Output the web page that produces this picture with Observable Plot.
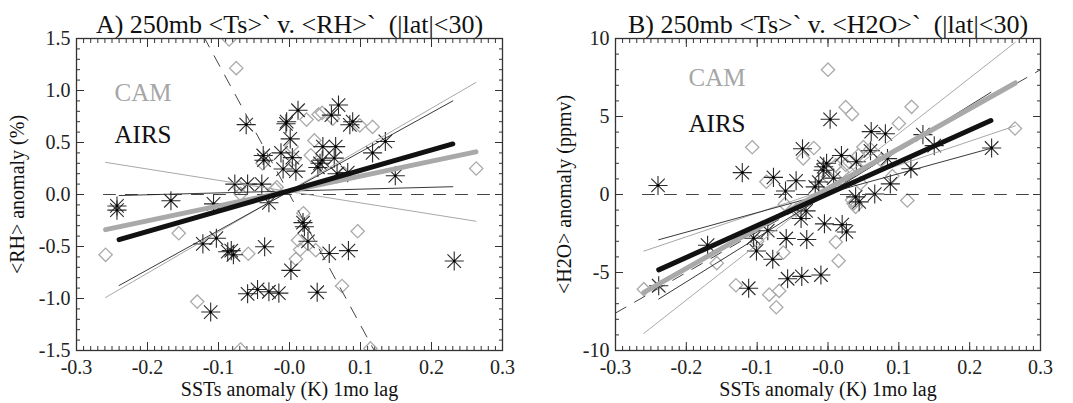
<!DOCTYPE html>
<html><head><meta charset="utf-8">
<script src="https://cdn.jsdelivr.net/npm/d3@7"></script>
<script src="https://cdn.jsdelivr.net/npm/@observablehq/plot@0.6"></script>
<style>
body{margin:0;background:#fff;}
#wrap{position:relative;width:1073px;height:403px;overflow:hidden;background:#fff;}
#a,#b{position:absolute;top:0;}
#a{left:0}#b{left:537px}
#wrap svg, #wrap svg text{font-family:"Liberation Serif","Times New Roman",serif !important;}
</style></head><body><div id="wrap"><div id="a"></div><div id="b"></div></div>
<script>
// ---------- tick labels ----------
const xTicksMajor = [-0.3,-0.2,-0.1,0,0.1,0.2,0.3];
const xTickLabels = ["-0.3","-0.2","-0.1","-0.0","0.1","0.2","0.3"];
const yTicksA = [-1.5,-1,-0.5,0,0.5,1,1.5];
const yTickLabelsA = ["-1.5","-1.0","-0.5","0.0","0.5","1.0","1.5"];
const yTicksB = [-10,-5,0,5,10];
const yTickLabelsB = ["-10","-5","0","5","10"];

// ---------- Panel A: AIRS (asterisks) ----------
const airsA_x = [-0.243,-0.243,-0.167,-0.107,-0.122,-0.103,-0.087,-0.079,-0.082,-0.111,-0.059,-0.045,-0.029,-0.015,-0.035,-0.029,-0.061,-0.077,-0.059,-0.039,-0.037,-0.036,-0.012,-0.009,-0.004,-0.005,0.001,0.004,0.012,0.009,0.002,0.019,0.021,0.026,0.040,0.043,0.047,0.046,0.039,0.056,0.059,0.065,0.063,0.069,0.067,0.085,0.089,0.083,0.082,0.117,0.135,0.149,0.232];
const airsA_y = [-0.11,-0.15,-0.06,-0.09,-0.475,-0.42,-0.55,-0.58,-0.54,-1.13,-0.955,-0.913,-0.935,-0.948,-0.503,-0.08,0.672,0.10,0.10,0.10,0.375,0.33,0.40,0.245,0.70,0.68,0.535,0.355,0.81,0.225,-0.73,-0.27,-0.31,-0.45,0.26,0.30,0.46,0.33,-0.94,-0.567,0.763,0.46,0.35,0.86,0.20,0.67,0.70,-0.54,0.21,0.40,0.51,0.18,-0.64];
// ---------- Panel A: CAM (diamonds) ----------
const camA_x = [-0.259,-0.156,-0.130,-0.069,-0.058,-0.085,-0.075,-0.071,-0.069,-0.020,-0.038,0.003,0.007,0.024,0.041,0.046,0.061,0.099,0.117,0.035,0.030,0.0195,0.012,0.015,0.009,0.037,0.096,0.074,0.114,0.263,0.077,-0.018];
const camA_y = [-0.58,-0.372,-1.03,-1.49,-0.57,1.49,1.215,0.07,0.005,0.05,0.30,0.46,0.34,0.72,0.77,0.785,0.73,0.665,0.65,0.52,0.377,-0.18,-0.44,-0.53,-0.62,-0.535,-0.353,-0.88,-1.48,0.25,0.20,0.07];
// ---------- Panel A: lines ----------
const airsFitA_x = [-0.240,0.230], airsFitA_y = [-0.434,0.486];
const camFitA_x = [-0.259,0.2625], camFitA_y = [-0.338,0.410];
const airsHiA_x = [-0.240,0.230], airsHiA_y = [-0.875,0.900];
const airsLoA_x = [-0.240,0.230], airsLoA_y = [-0.010,0.075];
const camHiA_x = [-0.259,0.2625], camHiA_y = [-0.990,1.077];
const camLoA_x = [-0.259,0.2625], camLoA_y = [0.309,-0.257];
const zeroA_x = [-0.262,0.300], zeroA_y = [0,0];
const revA_x = [-0.121,0.121], revA_y = [1.52,-1.52];

// ---------- Panel B: AIRS (asterisks) ----------
const airsB_x = [-0.240,-0.121,-0.077,-0.060,-0.045,-0.036,0.003,0.061,0.081,0.134,0.150,0.231,0.117,0.019,0.088,0.066,0.039,0.044,-0.170,-0.105,-0.101,-0.085,-0.078,-0.059,-0.057,-0.037,-0.030,-0.010,-0.005,0.020,0.026,-0.112,-0.239,-0.038,-0.031,-0.018,-0.013,-0.006,-0.002,-0.007,0.008,0.060,0.040,0.084];
const airsB_y = [0.58,1.40,1.10,0.22,0.88,2.93,4.82,4.03,3.89,3.84,3.13,2.98,1.65,2.50,0.68,0.03,-0.15,-0.47,-3.25,-2.80,-3.62,-2.32,-4.15,-2.82,-5.40,-5.25,-2.88,-5.16,-1.88,-1.93,-2.40,-6.01,-5.85,-1.54,-1.05,0.49,0.80,1.78,2.00,1.55,1.05,2.80,2.10,2.30];
// ---------- Panel B: CAM (diamonds) ----------
const camB_x = [0.000,0.025,0.034,0.118,0.100,0.264,-0.107,-0.020,-0.035,0.112,0.015,0.011,-0.260,-0.157,-0.130,-0.083,-0.069,-0.073,-0.063,-0.061,-0.087,0.091,0.046,0.036,0.039,0.034,0.000,0.011,0.020,0.030,0.043,0.050,0.041,-0.100,0.025,0.060,0.075,-0.045];
const camB_y = [8.00,5.60,5.15,5.62,4.55,4.23,3.03,2.98,2.32,-0.38,-4.25,-3.05,-6.07,-4.40,-5.82,-6.42,-6.18,-7.23,-3.72,-0.62,0.82,1.18,0.71,-0.58,-0.79,-0.36,1.13,1.87,1.45,2.09,2.51,3.04,1.77,-3.00,1.90,2.90,2.20,-1.00];
// ---------- Panel B: lines ----------
const airsFitB_x = [-0.239,0.230], airsFitB_y = [-4.83,4.74];
const camFitB_x = [-0.260,0.2645], camFitB_y = [-6.27,7.15];
const airsLoB_x = [-0.239,0.230], airsLoB_y = [-2.90,2.96];
const airsHiB_x = [-0.239,0.230], airsHiB_y = [-6.70,6.55];
const camLoB_x = [-0.260,0.2645], camLoB_y = [-3.63,4.40];
const camHiB_x = [-0.260,0.2645], camHiB_y = [-8.90,9.76];
const zeroB_x = [-0.262,0.300], zeroB_y = [0,0];
const revB_x = [-0.300,0.300], revB_y = [-7.60,8.00];

const FONT = '"Liberation Serif","Times New Roman",serif';
const zipXY = (xs, ys) => xs.map((x, i) => ({x, y: ys[i]}));

function panel(cfg) {
  const airs = zipXY(cfg.airsX, cfg.airsY);
  const cam = zipXY(cfg.camX, cfg.camY);
  const ln = (xs, ys, o) => Plot.line(zipXY(xs, ys), {x: "x", y: "y", clip: true, ...o});
  const thinGray = {stroke: "#a8a8a8", strokeWidth: 1};
  const thinBlack = {stroke: "#222", strokeWidth: 0.9};
  const dashed = {stroke: "#444", strokeWidth: 1, strokeDasharray: "12,10"};
  const tk = {text: null, label: null, stroke: "#333", strokeWidth: 1};
  return Plot.plot({
    width: cfg.width, height: 403,
    marginLeft: cfg.ml, marginRight: cfg.mr, marginTop: 38, marginBottom: 53,
    style: {fontFamily: FONT, fontSize: "20px", background: "#fff", color: "#222"},
    x: {domain: [-0.3, 0.3]},
    y: {domain: cfg.yDomain},
    marks: [
      // axes: labels
      Plot.axisX(xTicksMajor, {anchor: "bottom", tickSize: 0, tickPadding: 9, fontSize: 20, fontFamily: FONT, fill: "#222",
        tickFormat: d => xTickLabels[xTicksMajor.indexOf(d)], label: null}),
      Plot.axisY(cfg.yTicks, {anchor: "left", tickSize: 0, tickPadding: 6, fontSize: 20, fontFamily: FONT, fill: "#222",
        tickFormat: d => cfg.yLabels[cfg.yTicks.indexOf(d)], label: null}),
      // inward ticks
      Plot.axisX(xTicksMajor, {anchor: "bottom", tickSize: -8, ...tk}),
      Plot.axisX(d3.range(-30, 31).map(i => i / 100), {anchor: "bottom", tickSize: -4, ...tk}),
      Plot.axisX(xTicksMajor, {anchor: "top", tickSize: -8, ...tk}),
      Plot.axisX(d3.range(-30, 31).map(i => i / 100), {anchor: "top", tickSize: -4, ...tk}),
      Plot.axisY(cfg.yTicks, {anchor: "left", tickSize: -8, ...tk}),
      Plot.axisY(cfg.yMinor, {anchor: "left", tickSize: -4, ...tk}),
      Plot.axisY(cfg.yTicks, {anchor: "right", tickSize: -8, ...tk}),
      Plot.axisY(cfg.yMinor, {anchor: "right", tickSize: -4, ...tk}),
      // markers
      Plot.dot(cam, {x: "x", y: "y", symbol: "diamond2", r: 6, stroke: "#aaa", strokeWidth: 1.3, fill: "none", clip: true}),
      Plot.dot(airs, {x: "x", y: "y", symbol: "plus", r: 6.2, stroke: "#2a2a2a", strokeWidth: 1.1, clip: true}),
      Plot.dot(airs, {x: "x", y: "y", symbol: "times", r: 6.2, stroke: "#2a2a2a", strokeWidth: 1.1, clip: true}),
      Plot.dot(airs, {x: "x", y: "y", r: 1.4, fill: "#000", stroke: "none", clip: true}),
      // lines
      ln(cfg.zeroX, cfg.zeroY, dashed),
      ln(cfg.revX, cfg.revY, dashed),
      ln(cfg.camHiX, cfg.camHiY, thinGray),
      ln(cfg.camLoX, cfg.camLoY, thinGray),
      ln(cfg.airsHiX, cfg.airsHiY, thinBlack),
      ln(cfg.airsLoX, cfg.airsLoY, thinBlack),
      ln(cfg.camFitX, cfg.camFitY, {stroke: "#a9a9a9", strokeWidth: 5}),
      ln(cfg.airsFitX, cfg.airsFitY, {stroke: "#111", strokeWidth: 5}),
      Plot.frame({stroke: "#333", strokeWidth: 1.3}),
      // texts
      Plot.text([cfg.title], {frameAnchor: "top", lineAnchor: "bottom", dy: -6, fontSize: 26, fontFamily: FONT, fill: "#111", text: d => d}),
      Plot.text([cfg.ylabel], {frameAnchor: "left", textAnchor: "middle", lineAnchor: "middle", rotate: -90, dx: cfg.ylabOff, fontSize: 20, fontFamily: FONT, fill: "#111", text: d => d}),
      Plot.text(["SSTs anomaly (K) 1mo lag"], {frameAnchor: "bottom", lineAnchor: "bottom", dy: 45, fontSize: 20, fontFamily: FONT, fill: "#111", text: d => d}),
      Plot.text(["CAM"], {frameAnchor: "top-left", textAnchor: "start", lineAnchor: "bottom", dx: cfg.legDx, dy: cfg.legDy1, fontSize: 25, fontFamily: FONT, fill: "#a6a6a6", text: d => d}),
      Plot.text(["AIRS"], {frameAnchor: "top-left", textAnchor: "start", lineAnchor: "bottom", dx: cfg.legDx, dy: cfg.legDy2, fontSize: 25, fontFamily: FONT, fill: "#111", text: d => d})
    ]
  });
}

document.getElementById("a").append(panel({
  width: 537, ml: 76, mr: 35, yDomain: [-1.5, 1.5],
  yTicks: yTicksA, yLabels: yTickLabelsA, yMinor: d3.range(-15, 16).map(i => i / 10),
  airsX: airsA_x, airsY: airsA_y, camX: camA_x, camY: camA_y,
  airsFitX: airsFitA_x, airsFitY: airsFitA_y, camFitX: camFitA_x, camFitY: camFitA_y,
  airsHiX: airsHiA_x, airsHiY: airsHiA_y, airsLoX: airsLoA_x, airsLoY: airsLoA_y,
  camHiX: camHiA_x, camHiY: camHiA_y, camLoX: camLoA_x, camLoY: camLoA_y,
  zeroX: zeroA_x, zeroY: zeroA_y, revX: revA_x, revY: revA_y,
  title: "A) 250mb <Ts>` v. <RH>`  (|lat|<30)", ylabel: "<RH> anomaly (%)", ylabOff: -59,
  legDx: 38, legDy1: 62, legDy2: 104
}));
document.getElementById("b").append(panel({
  width: 536, ml: 78, mr: 33, yDomain: [-10, 10],
  yTicks: yTicksB, yLabels: yTickLabelsB, yMinor: d3.range(-10, 11),
  airsX: airsB_x, airsY: airsB_y, camX: camB_x, camY: camB_y,
  airsFitX: airsFitB_x, airsFitY: airsFitB_y, camFitX: camFitB_x, camFitY: camFitB_y,
  airsHiX: airsHiB_x, airsHiY: airsHiB_y, airsLoX: airsLoB_x, airsLoY: airsLoB_y,
  camHiX: camHiB_x, camHiY: camHiB_y, camLoX: camLoB_x, camLoY: camLoB_y,
  zeroX: zeroB_x, zeroY: zeroB_y, revX: revB_x, revY: revB_y,
  title: "B) 250mb <Ts>` v. <H2O>`  (|lat|<30)", ylabel: "<H2O> anomaly (ppmv)", ylabOff: -51,
  legDx: 73, legDy1: 47, legDy2: 93
}));
</script></body></html>
